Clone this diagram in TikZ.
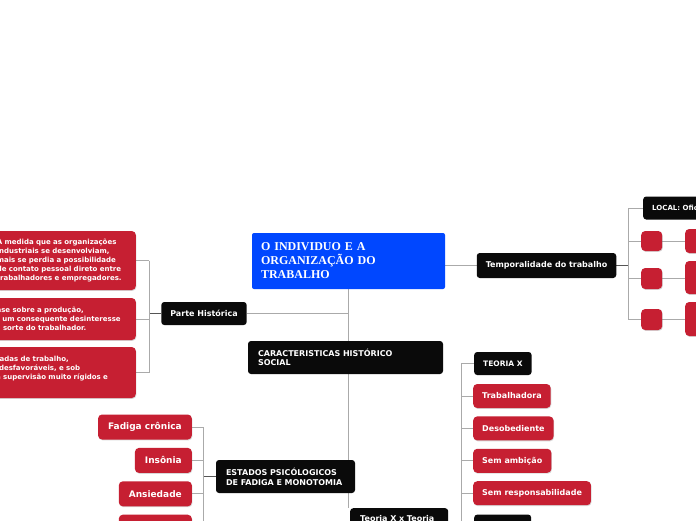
\documentclass[tikz,border=0pt]{standalone}
\usepackage{fontspec}
\newfontfamily\mapsans{DejaVu Sans}
\newfontfamily\mapserif{Liberation Serif}
\usetikzlibrary{positioning, shadows, backgrounds}

\definecolor{rootblue}{RGB}{0,71,255}
\definecolor{boxred}{RGB}{198,31,50}
\definecolor{boxblack}{RGB}{10,10,10}
\definecolor{linkgrey}{RGB}{170,170,170}
\definecolor{stubgrey}{RGB}{85,85,85}

\begin{document}
\begin{tikzpicture}[
    x=1pt, y=-1pt,
    rootbox/.style={fill=rootblue, rounded corners=2pt, text=white, align=left,
                    font=\mapserif\bfseries\fontsize{12}{14}\selectfont,
                    text width=175pt, inner xsep=9pt, minimum width=193pt, minimum height=56pt},
    blkbox/.style={fill=boxblack, rounded corners=3pt, text=white, align=left,
                   font=\mapsans\bfseries\fontsize{8}{10}\selectfont,
                   inner xsep=9pt, minimum height=23pt},
    redbox/.style={fill=boxred, rounded corners=4pt, text=white, align=left,
                   font=\mapsans\bfseries\fontsize{8}{10}\selectfont,
                   inner xsep=9pt, minimum height=24pt,
                   drop shadow={shadow xshift=0.6pt, shadow yshift=-0.9pt, opacity=0.3}},
    notebox/.style={redbox, font=\mapsans\bfseries\fontsize{7}{9}\selectfont},
    symptom/.style={redbox, font=\mapsans\bfseries\fontsize{9}{11}\selectfont,
                    inner xsep=10pt, minimum height=25pt},
    link/.style={draw=linkgrey, line width=0.9pt},
    stub/.style={draw=stubgrey, line width=1.4pt},
]
\useasboundingbox (0,0) rectangle (696,520);

% ── central topic ────────────────────────────────────────────────────────────
\node[rootbox] (root) at (348.5,261) {O INDIVIDUO E A\\ ORGANIZAÇÃO DO\\ TRABALHO};

% ── Temporalidade do trabalho (right) ───────────────────────────────────────
\node[blkbox, minimum height=25pt] (tempo) at (546.5,265.5) {Temporalidade do trabalho};
\node[blkbox, anchor=west, font=\mapsans\bfseries\fontsize{7}{9}\selectfont] (local)
    at (643,208) {LOCAL: Oficinas};
\node[redbox, anchor=west, inner sep=0pt, minimum width=21pt, minimum height=20pt] (passo1) at (641,241) {};
\node[redbox, anchor=west, inner sep=0pt, minimum width=21pt, minimum height=21pt] (passo2) at (641,278.5) {};
\node[redbox, anchor=west, inner sep=0pt, minimum width=21pt, minimum height=21pt] (passo3) at (641,319.5) {};
\node[redbox, anchor=west, minimum width=80pt, minimum height=24pt] (fase1) at (685,241) {};
\node[redbox, anchor=west, minimum width=80pt, minimum height=33pt] (fase2) at (685,277.5) {};
\node[redbox, anchor=west, minimum width=80pt, minimum height=34pt] (fase3) at (685,319) {};

% ── Parte Histórica (left) ──────────────────────────────────────────────────
\node[blkbox] (hist) at (204,313.5) {Parte Histórica};
\node[notebox, anchor=east, text width=130pt, minimum height=59pt] (hist1) at (136,260.5)
    {À medida que as organizações\\ industriais se desenvolviam,\\ mais se perdia a possibilidade\\
     de contato pessoal direto entre\\ trabalhadores e empregadores.};
\node[notebox, anchor=east, text width=143pt, minimum height=42pt] (hist2) at (136,319)
    {Ênfase sobre a produção,\\ com um consequente desinteresse\\ pela sorte do trabalhador.};
\node[notebox, anchor=east, text width=143pt, minimum height=51pt] (hist3) at (136,372.5)
    {Jornadas de trabalho,\\ tão desfavoráveis, e sob\\ uma supervisão muito rígidos e\\ \mbox{}};

% ── trunk nodes ─────────────────────────────────────────────────────────────
\node[blkbox, text width=175pt, inner xsep=10pt, minimum height=33pt,
      font=\mapsans\bfseries\fontsize{8}{9.5}\selectfont] (carac) at (345.5,357.5)
    {CARACTERISTICAS HISTÓRICO\\ SOCIAL};
\node[blkbox, text width=119pt, inner xsep=10pt, minimum height=33pt] (estados) at (285.5,476.5)
    {ESTADOS PSICÓLOGICOS\\ DE FADIGA E MONOTOMIA};
\node[blkbox, anchor=north west, text width=78pt, inner xsep=10pt, inner ysep=7pt] (teoxy) at (350,508)
    {Teoria X x Teoria\\ \mbox{}};

% ── estados psicológicos ────────────────────────────────────────────────────
\node[symptom, anchor=east] (cronica) at (192,427) {Fadiga crônica};
\node[symptom, below=8pt of cronica.south east, anchor=north east] (insonia) {Insônia};
\node[symptom, below=8pt of insonia.south east, anchor=north east] (ansied) {Ansiedade};
\node[symptom, minimum width=73pt, below=8pt of ansied.south east, anchor=north east] (estado4) {};

% ── teoria X ────────────────────────────────────────────────────────────────
\node[blkbox, anchor=west, font=\mapsans\bfseries\fontsize{7.5}{9}\selectfont] (teox) at (474,363.5) {TEORIA X};
\node[redbox, anchor=west] (trab) at (473,396) {Trabalhadora};
\node[redbox, below=8pt of trab.south west, anchor=north west] (desob) {Desobediente};
\node[redbox, below=8pt of desob.south west, anchor=north west] (ambic) {Sem ambição};
\node[redbox, below=8pt of ambic.south west, anchor=north west] (resp) {Sem responsabilidade};
\node[blkbox, minimum width=57pt, below=9pt of resp.south west, anchor=north west, xshift=1pt] (teoy) {};

% ── connectors ──────────────────────────────────────────────────────────────
\begin{scope}[on background layer]
\fill[white] (0,0) rectangle (696,520);
\draw[link] (root.south) -- (root.south |- teoxy.north);
\draw[link] (root.east |- tempo.west) -- (tempo.west);
\draw[link] (hist.east) -- (hist.east -| root.south);

\draw[stub] (tempo.east) -- ++(12,0) coordinate (tfork);
\draw[link] (local.west -| tfork) -- (passo3.west -| tfork);
\foreach \n in {local, passo1, passo2, passo3}
    \draw[link] (\n.west -| tfork) -- (\n.west);
\foreach \a/\b in {passo1/fase1, passo2/fase2, passo3/fase3}
    \draw[link] (\a.east) -- (\a.east -| \b.west);

\draw[stub] (hist.west) -- ++(-12,0) coordinate (hfork);
\draw[link] (hist1.east -| hfork) -- (hist3.east -| hfork);
\foreach \n in {hist1, hist2, hist3}
    \draw[link] (\n.east -| hfork) -- (\n.east);

\draw[stub] (estados.west) -- ++(-12,0) coordinate (efork);
\draw[link] (cronica.east -| efork) -- (estado4.east -| efork);
\foreach \n in {cronica, insonia, ansied, estado4}
    \draw[link] (\n.east -| efork) -- (\n.east);

\draw[stub] (teoxy.east) -- ++(13,0) coordinate (xfork);
\draw[link] (teox.west -| xfork) -- (teoy.west -| xfork);
\foreach \n in {teox, trab, desob, ambic, resp, teoy}
    \draw[link] (\n.west -| xfork) -- (\n.west);
\end{scope}

\end{tikzpicture}
\end{document}
